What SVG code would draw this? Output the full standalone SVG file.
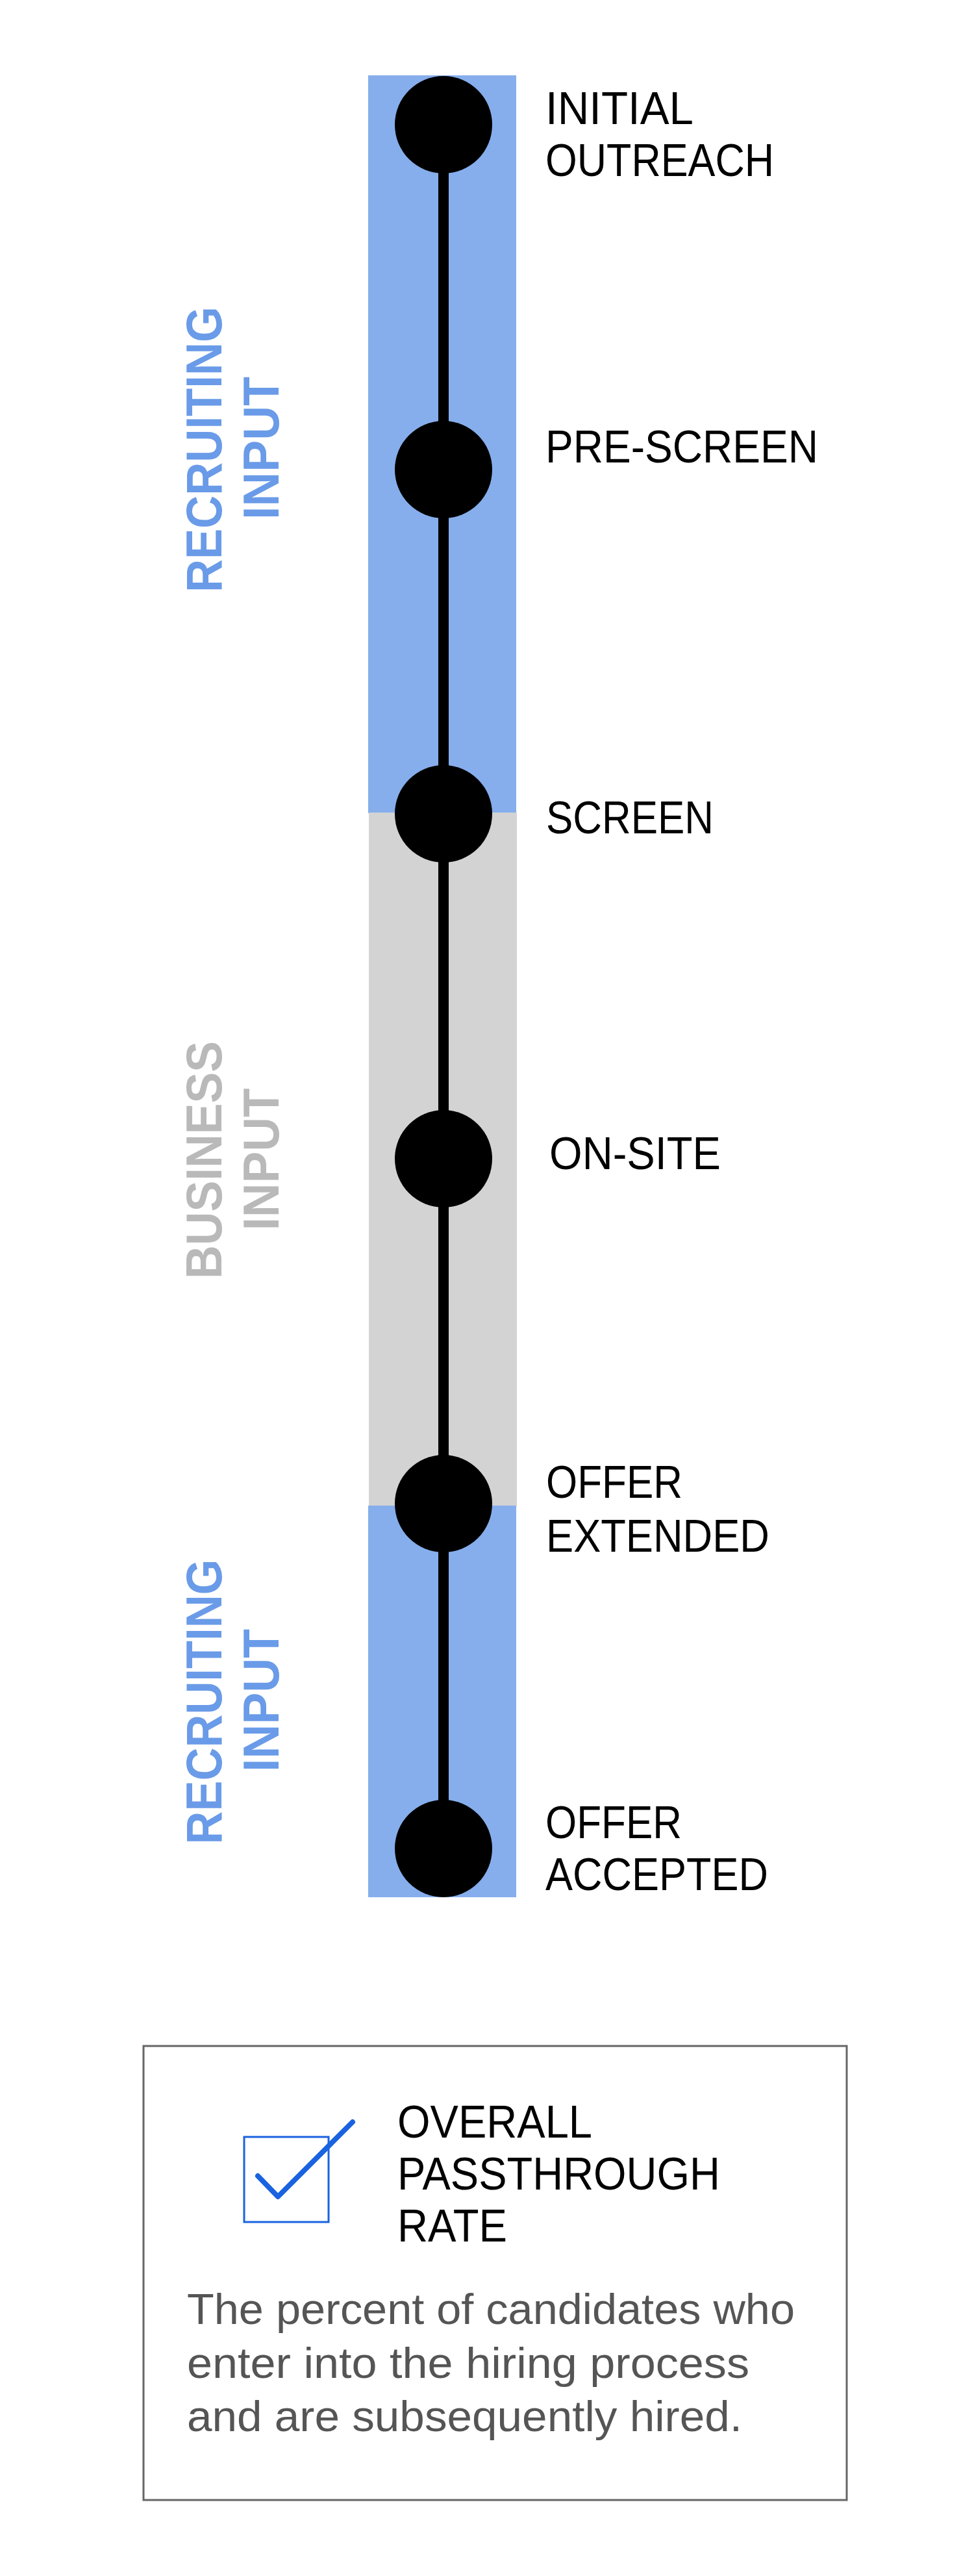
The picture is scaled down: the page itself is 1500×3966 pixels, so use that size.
<svg xmlns="http://www.w3.org/2000/svg" width="1500" height="3966" viewBox="0 0 1500 3966">
<style>
.lbl{font-family:"Liberation Sans",Arial,sans-serif;font-size:71px;fill:#000;}
.vt{font-family:"Liberation Sans",Arial,sans-serif;font-size:78px;font-weight:bold;text-anchor:middle;}
.blue{fill:#6A9BE8;}
.gray{fill:#B9B9B9;}
.desc{font-family:"Liberation Sans",Arial,sans-serif;font-size:66px;fill:#555555;}
.dot{fill:#000;}
</style>
<rect width="1500" height="3966" fill="#ffffff"/>
<g id="bands">
<rect x="567" y="116" width="228" height="1136" fill="#86AEEC"/>
<rect x="568" y="1251" width="228" height="1068" fill="#D3D3D3"/>
<rect x="567" y="2318" width="228" height="603" fill="#86AEEC"/>
</g>
<g id="side-labels">
<g id="recruiting-1">
<text class="vt blue" transform="translate(341,692) rotate(-90)" textLength="440" lengthAdjust="spacingAndGlyphs">RECRUITING</text>
<text class="vt blue" transform="translate(429,690) rotate(-90)" textLength="220" lengthAdjust="spacingAndGlyphs">INPUT</text>
</g>
<g id="business">
<text class="vt gray" transform="translate(341,1786) rotate(-90)" textLength="366" lengthAdjust="spacingAndGlyphs">BUSINESS</text>
<text class="vt gray" transform="translate(429,1785) rotate(-90)" textLength="219" lengthAdjust="spacingAndGlyphs">INPUT</text>
</g>
<g id="recruiting-2">
<text class="vt blue" transform="translate(341,2620) rotate(-90)" textLength="439" lengthAdjust="spacingAndGlyphs">RECRUITING</text>
<text class="vt blue" transform="translate(429,2618) rotate(-90)" textLength="220" lengthAdjust="spacingAndGlyphs">INPUT</text>
</g>
</g>
<g id="connectors">
<line x1="683" y1="192" x2="683" y2="2846" stroke="#000" stroke-width="16"/>
</g>
<g id="initial-outreach">
<circle class="dot" cx="683" cy="192" r="75"/>
<text class="lbl" x="840" y="191" textLength="228" lengthAdjust="spacingAndGlyphs">INITIAL</text>
<text class="lbl" x="840" y="271" textLength="352" lengthAdjust="spacingAndGlyphs">OUTREACH</text>
</g>
<g id="pre-screen">
<circle class="dot" cx="683" cy="723" r="75"/>
<text class="lbl" x="840" y="712" textLength="420" lengthAdjust="spacingAndGlyphs">PRE-SCREEN</text>
</g>
<g id="screen">
<circle class="dot" cx="683" cy="1253" r="75"/>
<text class="lbl" x="841" y="1283" textLength="258" lengthAdjust="spacingAndGlyphs">SCREEN</text>
</g>
<g id="on-site">
<circle class="dot" cx="683" cy="1784" r="75"/>
<text class="lbl" x="846" y="1800" textLength="264" lengthAdjust="spacingAndGlyphs">ON-SITE</text>
</g>
<g id="offer-extended">
<circle class="dot" cx="683" cy="2315" r="75"/>
<text class="lbl" x="841" y="2306" textLength="210" lengthAdjust="spacingAndGlyphs">OFFER</text>
<text class="lbl" x="841" y="2389" textLength="344" lengthAdjust="spacingAndGlyphs">EXTENDED</text>
</g>
<g id="offer-accepted">
<circle class="dot" cx="683" cy="2846" r="75"/>
<text class="lbl" x="840" y="2830" textLength="210" lengthAdjust="spacingAndGlyphs">OFFER</text>
<text class="lbl" x="840" y="2910" textLength="343" lengthAdjust="spacingAndGlyphs">ACCEPTED</text>
</g>
<g id="legend">
<rect x="221" y="3150" width="1083" height="699" fill="none" stroke="#666666" stroke-width="3"/>
<rect x="376" y="3290" width="130" height="131" fill="none" stroke="#1A63E0" stroke-width="3"/>
<polyline points="397,3350 428,3382 543,3267" fill="none" stroke="#1A63E0" stroke-width="8" stroke-linecap="round" stroke-linejoin="round"/>
<text class="lbl" x="612" y="3291" textLength="300" lengthAdjust="spacingAndGlyphs">OVERALL</text>
<text class="lbl" x="612" y="3371" textLength="497" lengthAdjust="spacingAndGlyphs">PASSTHROUGH</text>
<text class="lbl" x="612" y="3451" textLength="169" lengthAdjust="spacingAndGlyphs">RATE</text>
<text class="desc" x="288" y="3578" textLength="936" lengthAdjust="spacingAndGlyphs">The percent of candidates who</text>
<text class="desc" x="288" y="3661" textLength="866" lengthAdjust="spacingAndGlyphs">enter into the hiring process</text>
<text class="desc" x="288" y="3743" textLength="855" lengthAdjust="spacingAndGlyphs">and are subsequently hired.</text>
</g>
</svg>
